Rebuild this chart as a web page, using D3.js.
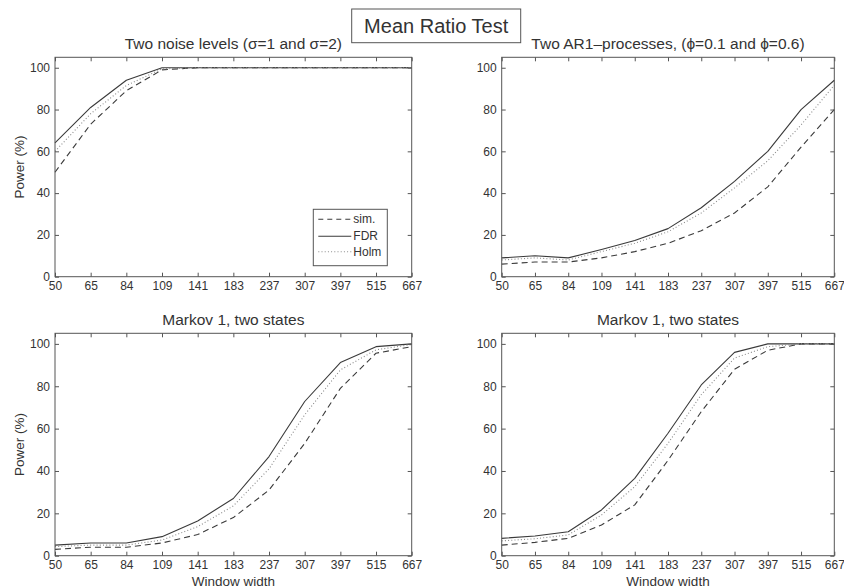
<!DOCTYPE html>
<html>
<head>
<meta charset="utf-8">
<script src="https://cdn.jsdelivr.net/npm/d3@7"></script>
<style>
  html, body { margin: 0; padding: 0; background: #fff; }
  svg { display: block; font-family: "Liberation Sans", Arial, sans-serif; }
</style>
</head>
<body>
<svg id="chart" width="844" height="588"></svg>
<script>
// Window widths (x categories, shared by all panels)
const windowWidths = [50, 65, 84, 109, 141, 183, 237, 307, 397, 515, 667];
const yTicks = [0, 20, 40, 60, 80, 100];

// Panel 1: two noise levels
const noiseSim  = [50, 73, 89, 99, 100, 100, 100, 100, 100, 100, 100];
const noiseFDR  = [64, 81, 94, 100, 100, 100, 100, 100, 100, 100, 100];
const noiseHolm = [60, 78, 91.5, 99.5, 100, 100, 100, 100, 100, 100, 100];

// Panel 2: two AR1 processes
const arSim  = [6, 7, 7, 9, 12, 16, 22, 30.5, 43, 62, 80];
const arFDR  = [9, 10, 9, 13, 17.3, 23, 33, 45.6, 60, 80, 94];
const arHolm = [8, 9, 8, 12, 16, 21.5, 30.5, 42.5, 55.5, 72.6, 91.7];

// Panel 3: Markov 1, two states
const mkASim  = [3, 4, 4, 6, 10, 18, 31, 53, 79, 95.6, 98.7];
const mkAFDR  = [5, 6, 6, 9, 16.4, 27, 46.8, 72.8, 91.2, 98.7, 100];
const mkAHolm = [4.3, 5, 5, 7.4, 13.7, 23.5, 41, 66.5, 87.7, 97.2, 99.7];

// Panel 4: Markov 1, two states
const mkBSim  = [5, 6.3, 8.2, 14.5, 24, 45, 68, 88, 97, 100, 100];
const mkBFDR  = [8.2, 9.3, 11.3, 21.6, 36.5, 57.8, 80.6, 96, 100, 100, 100];
const mkBHolm = [7, 8, 9.8, 19.2, 32.6, 53, 76, 93.3, 98.7, 100, 100];

const panelTitles = [
  "Two noise levels (\u03c3=1 and \u03c3=2)",
  "Two AR1\u2013processes, (\u03d5=0.1 and \u03d5=0.6)",
  "Markov 1, two states",
  "Markov 1, two states"
];
const seriesNames = ["sim.", "FDR", "Holm"];

const panels = [
  { title: panelTitles[0], data: [noiseSim, noiseFDR, noiseHolm], x0: 55, x1: 411.7, y0: 57.3, y1: 276.7, ylabel: true, xlabel: false, legend: true },
  { title: panelTitles[1], data: [arSim, arFDR, arHolm], x0: 501.7, x1: 834.3, y0: 57.3, y1: 276.7, ylabel: false, xlabel: false, legend: false },
  { title: panelTitles[2], data: [mkASim, mkAFDR, mkAHolm], x0: 55, x1: 411.7, y0: 333.3, y1: 555.7, ylabel: true, xlabel: true, legend: false },
  { title: panelTitles[3], data: [mkBSim, mkBFDR, mkBHolm], x0: 501.7, x1: 834.3, y0: 333.3, y1: 555.7, ylabel: false, xlabel: true, legend: false }
];

const textColor = "#333";
const axisColor = "#555";
const styles = [
  { stroke: "#3a3a3a", width: 1.1, dash: "6,4" },   // sim.
  { stroke: "#3a3a3a", width: 1.1, dash: null },    // FDR
  { stroke: "#8a8a8a", width: 1.1, dash: "1,2.2" }  // Holm
];

const svg = d3.select("#chart");

panels.forEach(p => {
  const x = d3.scalePoint().domain(windowWidths).range([p.x0, p.x1]).padding(0);
  const y = d3.scaleLinear().domain([0, 105]).range([p.y1, p.y0]);
  const g = svg.append("g");

  // curves
  p.data.forEach((vals, i) => {
    const line = d3.line().x((d, j) => x(windowWidths[j])).y(d => y(d));
    g.append("path")
      .datum(vals)
      .attr("d", line)
      .attr("fill", "none")
      .attr("stroke", styles[i].stroke)
      .attr("stroke-width", styles[i].width)
      .attr("stroke-dasharray", styles[i].dash)
      .attr("stroke-linejoin", "round");
  });

  // axes: ticks pointing inward on all four sides
  const tk = 4;
  const bottom = g.append("g").attr("transform", `translate(0,${p.y1})`)
    .call(d3.axisBottom(x).tickSize(-tk).tickPadding(5));
  const top = g.append("g").attr("transform", `translate(0,${p.y0})`)
    .call(d3.axisTop(x).tickSize(-tk).tickFormat(""));
  const left = g.append("g").attr("transform", `translate(${p.x0},0)`)
    .call(d3.axisLeft(y).tickValues(yTicks).tickSize(-tk).tickPadding(5));
  const right = g.append("g").attr("transform", `translate(${p.x1},0)`)
    .call(d3.axisRight(y).tickValues(yTicks).tickSize(-tk).tickFormat(""));

  [bottom, top, left, right].forEach(a => {
    a.select(".domain").remove();
    a.selectAll("line").attr("stroke", axisColor);
    a.selectAll("text").attr("fill", textColor).style("font-size", "12px")
      .style("font-family", "'Liberation Sans', Arial, sans-serif");
  });
  bottom.selectAll("text").attr("dy", "0.71em");

  // box
  g.append("rect")
    .attr("x", p.x0).attr("y", p.y0)
    .attr("width", p.x1 - p.x0).attr("height", p.y1 - p.y0)
    .attr("fill", "none").attr("stroke", axisColor).attr("stroke-width", 1);

  // title
  g.append("text")
    .attr("x", (p.x0 + p.x1) / 2).attr("y", p.y0 - 8)
    .attr("text-anchor", "middle")
    .attr("fill", textColor)
    .style("font-size", "15.5px")
    .text(p.title);

  if (p.ylabel) {
    g.append("text")
      .attr("transform", `translate(24,${(p.y0 + p.y1) / 2}) rotate(-90)`)
      .attr("text-anchor", "middle")
      .attr("fill", textColor)
      .style("font-size", "13.5px")
      .text("Power (%)");
  }
  if (p.xlabel) {
    g.append("text")
      .attr("x", (p.x0 + p.x1) / 2).attr("y", p.y1 + 30)
      .attr("text-anchor", "middle")
      .attr("fill", textColor)
      .style("font-size", "13.5px")
      .text("Window width");
  }

  if (p.legend) {
    const lx = 313.3, ly = 209.3, lw = 74, lh = 56.4;
    const lg = g.append("g");
    lg.append("rect").attr("x", lx).attr("y", ly).attr("width", lw).attr("height", lh)
      .attr("fill", "#fff").attr("stroke", axisColor).attr("stroke-width", 1);
    const rows = [219.2, 236.2, 251.7];
    seriesNames.forEach((name, i) => {
      lg.append("line")
        .attr("x1", lx + 5).attr("x2", lx + 38)
        .attr("y1", rows[i]).attr("y2", rows[i])
        .attr("stroke", styles[i].stroke)
        .attr("stroke-width", styles[i].width)
        .attr("stroke-dasharray", i === 0 ? "5,4" : styles[i].dash);
      lg.append("text")
        .attr("x", lx + 40).attr("y", rows[i]).attr("dy", "0.35em")
        .attr("fill", textColor)
        .style("font-size", "12px")
        .text(name);
    });
  }
});

// figure heading in a framed box
const hb = svg.append("g");
hb.append("rect").attr("x", 351.7).attr("y", 9).attr("width", 169).attr("height", 33.7)
  .attr("fill", "#fff").attr("stroke", axisColor).attr("stroke-width", 1);
hb.append("text").attr("x", 436.2).attr("y", 25.8).attr("dy", "0.35em")
  .attr("text-anchor", "middle").attr("fill", textColor)
  .style("font-size", "20px")
  .text("Mean Ratio Test");
</script>
</body>
</html>
